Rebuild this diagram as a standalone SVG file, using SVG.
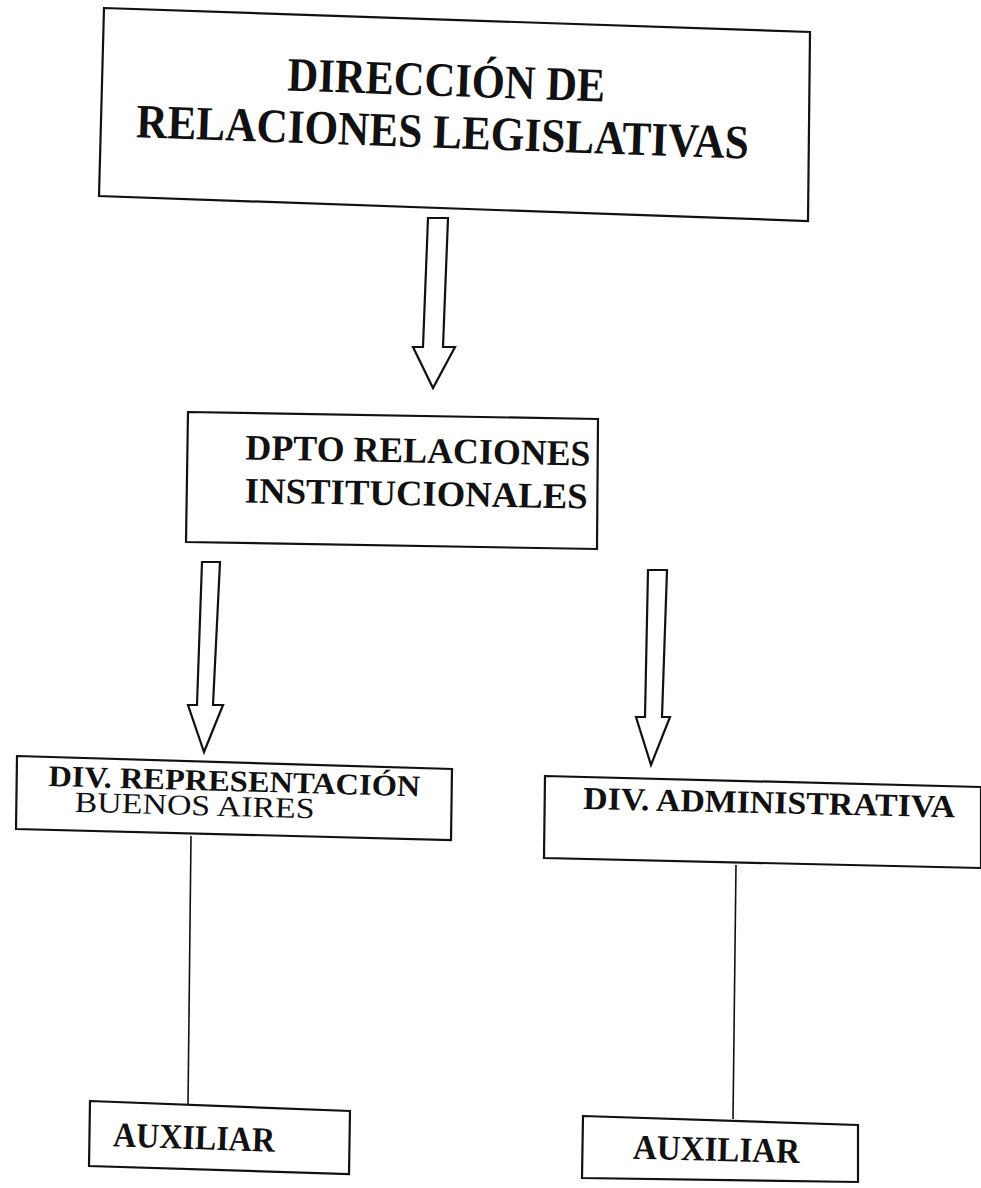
<svg xmlns="http://www.w3.org/2000/svg" width="981" height="1188" viewBox="0 0 981 1188">
<style>
.box{fill:#fff;stroke:#111;stroke-width:2.2}
.arr{fill:#fff;stroke:#111;stroke-width:2.2;stroke-linejoin:miter}
.ln{fill:none;stroke:#111;stroke-width:1.6}
.t{font-family:"Liberation Serif","Times New Roman",serif;font-weight:bold;fill:#111}
.r{font-family:"Liberation Serif","Times New Roman",serif;font-weight:normal;fill:#111}
</style>
<rect width="981" height="1188" fill="#fff"/>
<g id="connectors">
<polygon class="arr" points="428,218 448,218 443,347 455,347 433,388 413,347 423,347"/>
<polygon class="arr" points="202,562 220,562 213,705 223,705 204,752 188,705 197,705"/>
<polygon class="arr" points="648,570 667,570 662,717 670,717 651,765 636,717 645,717"/>
<line class="ln" x1="191" y1="836" x2="188" y2="1105"/>
<line class="ln" x1="736" y1="865" x2="733" y2="1119"/>
</g>
<g id="direccion">
<polygon class="box" points="104,8 810,32 808,221 99,196"/>
<g transform="rotate(2 445 120)">
<text class="t" x="445" y="96" font-size="48" text-anchor="middle" textLength="318" lengthAdjust="spacingAndGlyphs">DIRECCIÓN DE</text>
<text class="t" x="443" y="148" font-size="48" text-anchor="middle" textLength="613" lengthAdjust="spacingAndGlyphs">RELACIONES LEGISLATIVAS</text>
</g>
</g>
<g id="dpto">
<polygon class="box" points="188,412 598,419 597,549 186,542"/>
<g transform="rotate(1 390 480)">
<text class="t" x="245" y="462" font-size="36" textLength="345" lengthAdjust="spacingAndGlyphs">DPTO RELACIONES</text>
<text class="t" x="245" y="505" font-size="36" textLength="343" lengthAdjust="spacingAndGlyphs">INSTITUCIONALES</text>
</g>
</g>
<g id="div-representacion">
<polygon class="box" points="17,756 452,769 451,840 16,829"/>
<g transform="rotate(1.6 230 795)">
<text class="t" x="48" y="791" font-size="30" textLength="372" lengthAdjust="spacingAndGlyphs">DIV. REPRESENTACIÓN</text>
<text class="r" x="75" y="816" font-size="29" textLength="240" lengthAdjust="spacingAndGlyphs">BUENOS AIRES</text>
</g>
</g>
<g id="div-administrativa">
<polygon class="box" points="545,776 981,787 981,868 544,858"/>
<g transform="rotate(1.3 760 815)">
<text class="t" x="583" y="813" font-size="32" textLength="372" lengthAdjust="spacingAndGlyphs">DIV. ADMINISTRATIVA</text>
</g>
</g>
<g id="auxiliar-1">
<polygon class="box" points="90,1101 350,1111 349,1174 89,1166"/>
<g transform="rotate(2 220 1140)">
<text class="t" x="113" y="1150" font-size="35" textLength="162" lengthAdjust="spacingAndGlyphs">AUXILIAR</text>
</g>
</g>
<g id="auxiliar-2">
<polygon class="box" points="583,1116 858,1125 858,1182 582,1178"/>
<g transform="rotate(1.5 720 1150)">
<text class="t" x="633" y="1161" font-size="35" textLength="167" lengthAdjust="spacingAndGlyphs">AUXILIAR</text>
</g>
</g>
</svg>
